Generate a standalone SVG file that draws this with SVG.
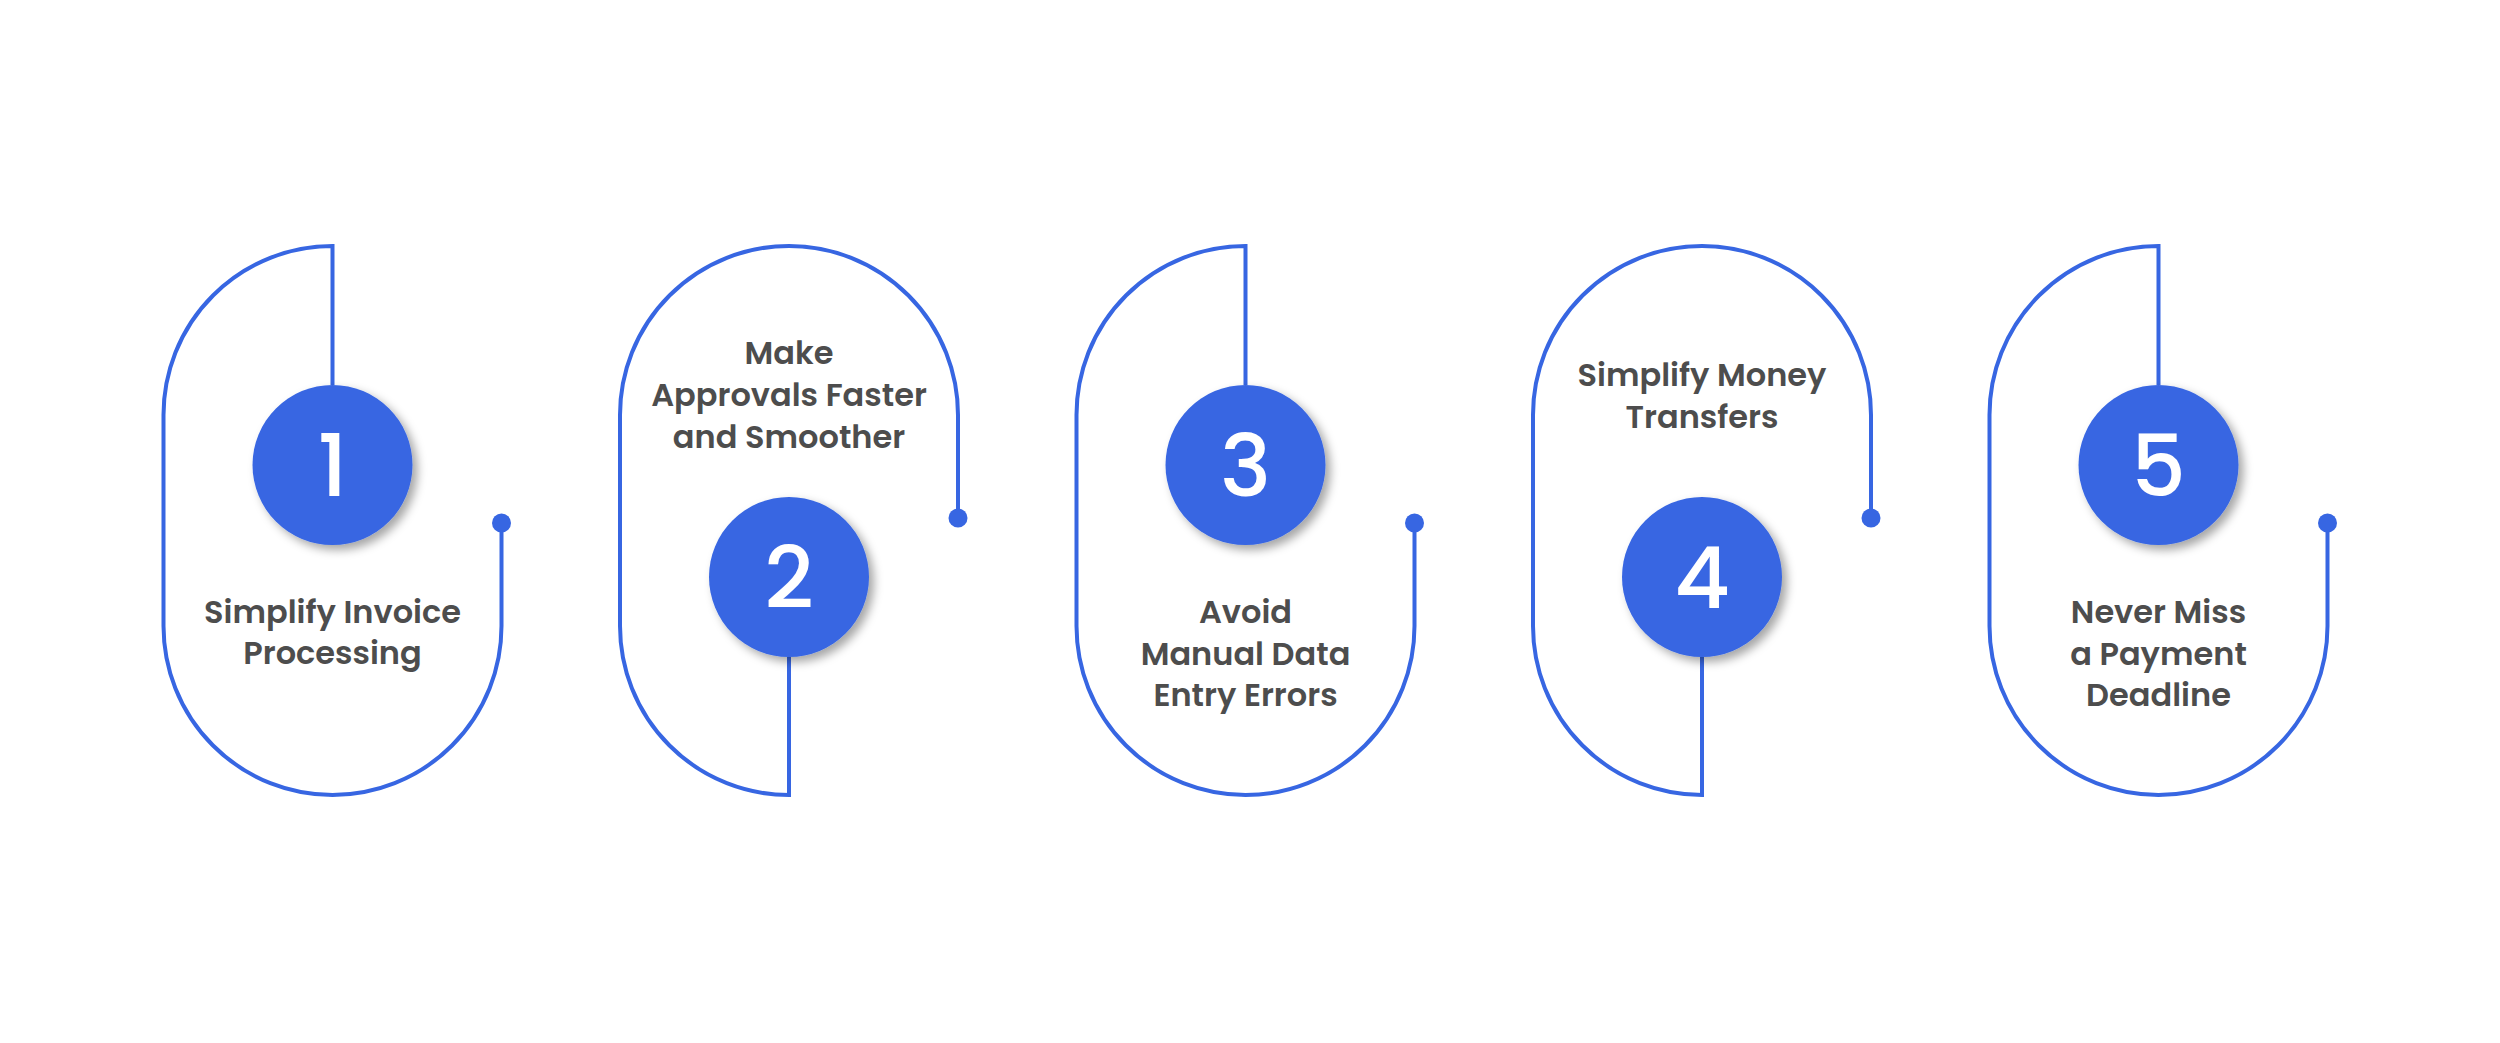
<svg xmlns="http://www.w3.org/2000/svg" width="2500" height="1043" viewBox="0 0 2500 1043">
  <style>
    .line { fill: none; stroke: #3766E2; stroke-width: 4; }
    .dot { fill: #3766E2; }
    .badge { fill: #3766E2; filter: url(#shadow); }
    .num { font-family: "Poppins", "Liberation Sans", Arial, sans-serif; font-weight: 500; font-size: 86px; fill: #ffffff; text-anchor: middle; }
    .label { font-family: "Poppins", "Open Sans", "Liberation Sans", sans-serif; font-weight: 600; font-size: 32px; fill: #4d4d4d; text-anchor: middle; }
  </style>
  <defs>
    <filter id="shadow" x="-30%" y="-30%" width="170%" height="170%">
      <feDropShadow dx="5" dy="5" stdDeviation="5" flood-color="#000000" flood-opacity="0.35"/>
    </filter>
  </defs>
  <rect width="2500" height="1043" fill="#ffffff"/>

  <g id="connectors">
    <path class="line" d="M332.5 385 V246 A169 169 0 0 0 163.5 415 V626 A169 169 0 0 0 501.5 626 V523"/>
    <circle class="dot" cx="501.5" cy="523" r="9.5"/>
    <path class="line" d="M789 657 V795 A169 169 0 0 1 620 626 V415 A169 169 0 0 1 958 415 V518"/>
    <circle class="dot" cx="958" cy="518" r="9.5"/>
    <path class="line" d="M1245.5 385 V246 A169 169 0 0 0 1076.5 415 V626 A169 169 0 0 0 1414.5 626 V523"/>
    <circle class="dot" cx="1414.5" cy="523" r="9.5"/>
    <path class="line" d="M1702 657 V795 A169 169 0 0 1 1533 626 V415 A169 169 0 0 1 1871 415 V518"/>
    <circle class="dot" cx="1871" cy="518" r="9.5"/>
    <path class="line" d="M2158.5 385 V246 A169 169 0 0 0 1989.5 415 V626 A169 169 0 0 0 2327.5 626 V523"/>
    <circle class="dot" cx="2327.5" cy="523" r="9.5"/>
  </g>

  <g id="node1">
    <circle class="badge" cx="332.5" cy="465" r="80"/>
    <text class="num" x="332.5" y="496">1</text>
    <text class="label" x="332.5" y="623">Simplify Invoice</text>
    <text class="label" x="332.5" y="664">Processing</text>
  </g>

  <g id="node2">
    <circle class="badge" cx="789" cy="577" r="80"/>
    <text class="num" x="789" y="608">2</text>
    <text class="label" x="789" y="364">Make</text>
    <text class="label" x="789" y="406">Approvals Faster</text>
    <text class="label" x="789" y="448">and Smoother</text>
  </g>

  <g id="node3">
    <circle class="badge" cx="1245.5" cy="465" r="80"/>
    <text class="num" x="1245.5" y="496">3</text>
    <text class="label" x="1245.5" y="623">Avoid</text>
    <text class="label" x="1245.5" y="665">Manual Data</text>
    <text class="label" x="1245.5" y="706">Entry Errors</text>
  </g>

  <g id="node4">
    <circle class="badge" cx="1702" cy="577" r="80"/>
    <text class="num" x="1702" y="608">4</text>
    <text class="label" x="1702" y="386">Simplify Money</text>
    <text class="label" x="1702" y="428">Transfers</text>
  </g>

  <g id="node5">
    <circle class="badge" cx="2158.5" cy="465" r="80"/>
    <text class="num" x="2158.5" y="496">5</text>
    <text class="label" x="2158.5" y="623">Never Miss</text>
    <text class="label" x="2158.5" y="665">a Payment</text>
    <text class="label" x="2158.5" y="706">Deadline</text>
  </g>
</svg>
